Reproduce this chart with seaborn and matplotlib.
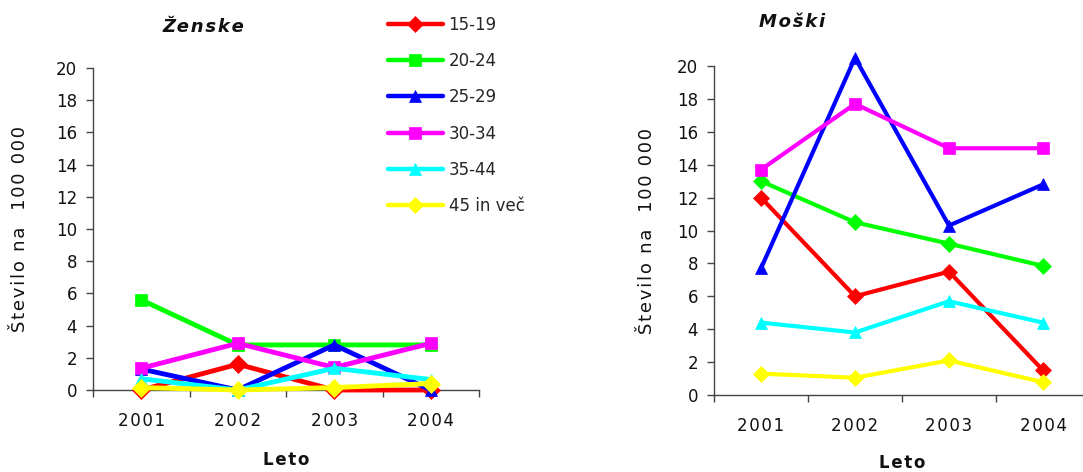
import matplotlib
matplotlib.use("Agg")
import matplotlib.pyplot as plt
import seaborn as sns
import pandas as pd

years = ["2001", "2002", "2003", "2004"]
groups = ["15-19", "20-24", "25-29", "30-34", "35-44", "45 in več"]

# Rates per 100 000, women
zenske = {
    "15-19": [0.0, 1.6, 0.0, 0.0],
    "20-24": [5.6, 2.8, 2.8, 2.8],
    "25-29": [1.3, 0.0, 2.8, 0.0],
    "30-34": [1.35, 2.9, 1.4, 2.9],
    "35-44": [0.7, 0.0, 1.35, 0.65],
    "45 in več": [0.15, 0.0, 0.15, 0.4],
}

# Rates per 100 000, men
moski = {
    "15-19": [12.0, 6.0, 7.5, 1.5],
    "20-24": [13.0, 10.5, 9.2, 7.85],
    "25-29": [7.7, 20.5, 10.3, 12.8],
    "30-34": [13.7, 17.7, 15.0, 15.0],
    "35-44": [4.4, 3.8, 5.7, 4.4],
    "45 in več": [1.3, 1.05, 2.1, 0.78],
}

colors = {
    "15-19": "#FF0000",
    "20-24": "#00FF00",
    "25-29": "#0000FF",
    "30-34": "#FF00FF",
    "35-44": "#00FFFF",
    "45 in več": "#FFFF00",
}
markers_f = {"15-19": "D", "20-24": "s", "25-29": "^",
             "30-34": "s", "35-44": "^", "45 in več": "D"}
markers_m = {"15-19": "D", "20-24": "D", "25-29": "^",
             "30-34": "s", "35-44": "^", "45 in več": "D"}

HAIR = "\u200a"


def spaced(text, sep):
    """Expanded character spacing for axis texts."""
    return sep.join(text)


def to_long(d):
    rows = []
    for g in groups:
        for y, v in zip(years, d[g]):
            rows.append({"Leto": y, "Skupina": g, "Vrednost": v})
    return pd.DataFrame(rows)


sns.set_theme(style="white")
plt.rcParams["font.family"] = ["DejaVu Sans"]
plt.rcParams["axes.edgecolor"] = "#444444"

fig = plt.figure(figsize=(10.83, 4.72), dpi=100)
ax1 = fig.add_axes([93 / 1083, 1 - 390 / 472, 386 / 1083, 322 / 472])
ax2 = fig.add_axes([714 / 1083, 1 - 395 / 472, 376 / 1083, 329 / 472])


def draw(ax, data, markers, lw, ms):
    sns.lineplot(data=to_long(data), x="Leto", y="Vrednost", hue="Skupina",
                 style="Skupina", hue_order=groups, style_order=groups,
                 palette=colors, markers=markers, dashes=False,
                 linewidth=lw, markersize=ms, markeredgecolor="auto",
                 markeredgewidth=0.5, ax=ax, clip_on=False, sort=False)
    ax.set_xlim(-0.5, 3.5)
    ax.set_ylim(0, 20)
    ax.set_yticks(range(0, 21, 2))
    ax.set_xticks(range(len(years)))
    ax.set_xticklabels([spaced(y, HAIR) for y in years])
    ax.set_xticks([-0.5, 0.5, 1.5, 2.5, 3.5], minor=True)
    for s in ["top", "right"]:
        ax.spines[s].set_visible(False)
    for s in ["left", "bottom"]:
        ax.spines[s].set_linewidth(1.0)
        ax.spines[s].set_zorder(1)
    ax.tick_params(axis="x", which="major", length=0, pad=16, labelsize=12,
                   labelcolor="#111111")
    ax.tick_params(axis="x", which="minor", length=5, width=1.0,
                   color="#444444", direction="out", bottom=True)
    ax.tick_params(axis="y", length=5, width=1.0, color="#444444",
                   direction="out", left=True, pad=6.5, labelsize=12,
                   labelcolor="#111111")
    ax.set_xlabel("")
    ax.set_ylabel("")


draw(ax1, zenske, markers_f, 3.5, 9)
draw(ax2, moski, markers_m, 3.0, 8)

handles, labels = ax1.get_legend_handles_labels()
ax1.get_legend().remove()
ax2.get_legend().remove()
for h in handles:
    h.set_linewidth(3.2)
    h.set_markersize(8)
    h.set_markeredgecolor(h.get_color())
fig.legend(handles, labels, loc="upper left",
           bbox_to_anchor=(381 / 1083, 1 - 9 / 472), frameon=False,
           fontsize=12, handlelength=3.3, handletextpad=0.35,
           labelspacing=1.1, borderaxespad=0)

ylab = spaced("Število na  100 000", HAIR)
ax1.text(-0.189, 0.5, ylab, transform=ax1.transAxes, rotation=90,
         ha="center", va="center", fontsize=13, color="#111111")
ax2.text(-0.178, 0.5, ylab, transform=ax2.transAxes, rotation=90,
         ha="center", va="center", fontsize=13, color="#111111")

xlab = spaced("Leto", HAIR)
ax1.text(0.5, -0.217, xlab, transform=ax1.transAxes, ha="center",
         va="center", fontsize=12, fontweight="bold", color="#111111")
ax2.text(0.5, -0.207, xlab, transform=ax2.transAxes, ha="center",
         va="center", fontsize=12, fontweight="bold", color="#111111")

ax1.text(0.285, 1.127, spaced("Ženske", HAIR), transform=ax1.transAxes,
         ha="center", va="center", fontsize=13, fontweight="bold",
         fontstyle="italic", color="#111111")
ax2.text(0.207, 1.134, spaced("Moški", HAIR), transform=ax2.transAxes,
         ha="center", va="center", fontsize=13, fontweight="bold",
         fontstyle="italic", color="#111111")

fig.savefig("out.png", dpi=100)
